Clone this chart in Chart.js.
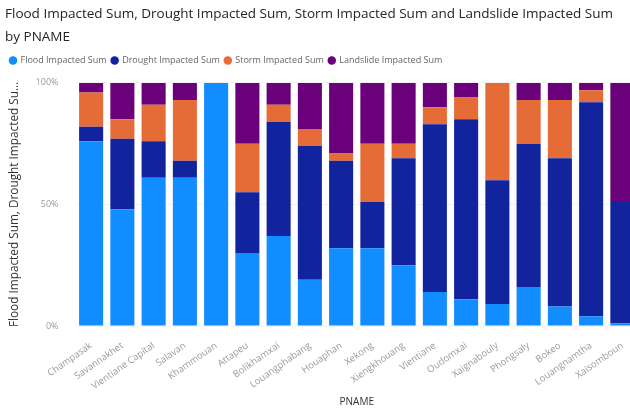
<!DOCTYPE html>
<html>
<head>
<meta charset="utf-8">
<script src="https://cdn.jsdelivr.net/npm/chart.js@4"></script>
<style>
  html, body { margin: 0; padding: 0; background: #fff; overflow: hidden; }
  /* plot runs a bit past the right edge, like the original screenshot */
  #wrap { width: 638px; height: 408px; }
</style>
</head>
<body>
<div id="wrap"><canvas id="pnamechart"></canvas></div>
<script>
const pnames = ['Champasak', 'Savannakhet', 'Vientiane Capital', 'Salavan', 'Khammouan', 'Attapeu',
  'Bolikhamxai', 'Louangphabang', 'Houaphan', 'Xekong', 'Xiengkhouang', 'Vientiane', 'Oudomxai',
  'Xaignabouly', 'Phongsaly', 'Bokeo', 'Louangnamtha', 'Xaisomboun'];

// share of each province total, in %
const flood     = [76, 48, 61, 61, 100, 30, 37, 19, 32, 32, 25, 14, 11, 9, 16, 8, 4, 1];
const drought   = [6, 29, 15, 7, 0, 25, 47, 55, 36, 19, 44, 69, 74, 51, 59, 61, 88, 50];
const storm     = [14, 8, 15, 25, 0, 20, 7, 7, 3, 24, 6, 7, 9, 40, 18, 24, 5, 0];
const landslide = [4, 15, 9, 7, 0, 25, 9, 19, 29, 25, 25, 10, 6, 0, 7, 7, 3, 49];

const yTicks = [0, 50, 100];

const ctx = document.getElementById('pnamechart');

// extra room under the legend
const legendGap = {
  id: 'legendGap',
  beforeInit(chart) {
    const fit = chart.legend.fit;
    chart.legend.fit = function () {
      fit.bind(chart.legend)();
      this.height += 8;
    };
  }
};

new Chart(ctx, {
  type: 'bar',
  data: {
    labels: pnames,
    datasets: [
      { label: 'Flood Impacted Sum', data: flood, backgroundColor: '#118DFF' },
      { label: 'Drought Impacted Sum', data: drought, backgroundColor: '#12239E' },
      { label: 'Storm Impacted Sum', data: storm, backgroundColor: '#E66C37' },
      { label: 'Landslide Impacted Sum', data: landslide, backgroundColor: '#6B007B' }
    ]
  },
  plugins: [legendGap],
  options: {
    responsive: true,
    maintainAspectRatio: false,
    animation: false,
    barPercentage: 0.77,
    categoryPercentage: 1,
    layout: { padding: { left: 5, right: 0, top: 0, bottom: 0 } },
    plugins: {
      title: {
        display: true,
        text: ['Flood Impacted Sum, Drought Impacted Sum, Storm Impacted Sum and Landslide Impacted Sum', 'by PNAME'],
        align: 'start',
        color: '#252423',
        font: { family: 'Open Sans', size: 13.5, weight: 'normal', lineHeight: 1.7 },
        padding: { top: 3, bottom: 2 }
      },
      legend: {
        align: 'start',
        labels: {
          usePointStyle: true,
          pointStyle: 'circle',
          boxWidth: 6,
          boxHeight: 6,
          padding: 5,
          color: '#666666',
          font: { family: 'Open Sans', size: 9 }
        }
      },
      tooltip: { enabled: false }
    },
    scales: {
      x: {
        stacked: true,
        afterFit: (axis) => { axis.height = 82; },
        grid: { display: false },
        border: { display: false },
        ticks: {
          color: '#999999',
          font: { family: 'Open Sans', size: 9.5 },
          minRotation: 35,
          maxRotation: 35,
          autoSkip: false,
          padding: 6
        },
        title: {
          display: true,
          text: 'PNAME',
          color: '#333333',
          font: { family: 'Open Sans', size: 10 },
          padding: { top: 4, bottom: 0 }
        }
      },
      y: {
        stacked: true,
        min: 0,
        max: 100,
        afterBuildTicks: (axis) => { axis.ticks = yTicks.map(v => ({ value: v })); },
        afterFit: (axis) => { axis.width = 70.5; },
        grid: { color: '#F2F2F2', drawTicks: false },
        border: { display: false },
        ticks: {
          color: '#999999',
          font: { family: 'Open Sans', size: 9 },
          padding: 17,
          callback: (v) => v + '%'
        },
        title: {
          display: true,
          text: 'Flood Impacted Sum, Drought Impacted Su…',
          color: '#333333',
          font: { family: 'Open Sans', size: 11.8 },
          padding: { top: 3, bottom: 0 }
        }
      }
    }
  }
});
</script>
</body>
</html>
